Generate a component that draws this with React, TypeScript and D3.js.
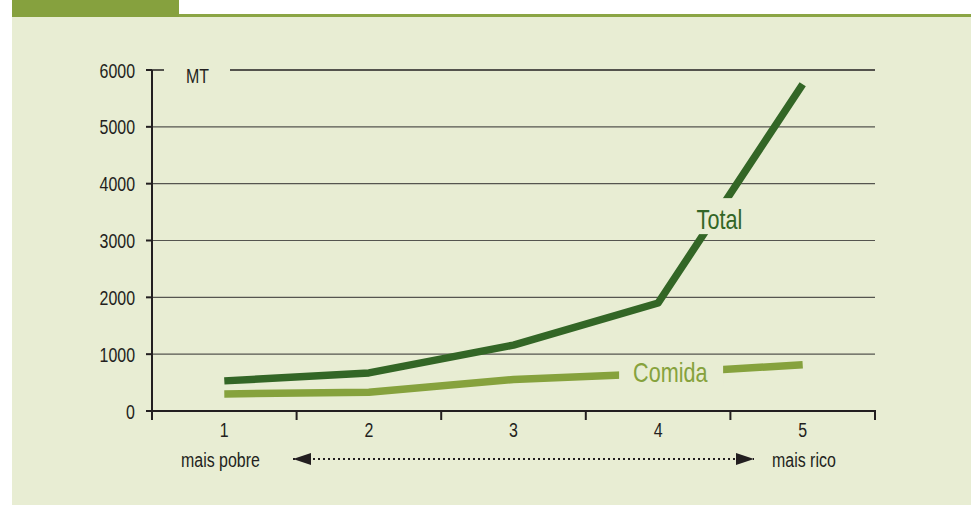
import * as d3 from "d3";
import { useEffect, useRef } from "react";

const categories = ["1", "2", "3", "4", "5"];
const totalValues = [530, 670, 1160, 1900, 5750];
const comidaValues = [300, 330, 555, 660, 815];
const yTicks = [0, 1000, 2000, 3000, 4000, 5000, 6000];

const FONT = "'Liberation Sans', Arial, sans-serif";
const PANEL = "#e8edd3";
const INK = "#231f20";
const TOTAL_COLOR = "#336626";
const COMIDA_COLOR = "#86a23d";

type G = d3.Selection<any, unknown, null, undefined>;

// the original uses a condensed face; squeeze Liberation Sans horizontally
function addText(parent: G, x: number, y: number, str: string | number, size: number, color: string, anchor = "start", squeeze = 0.76) {
  return parent
    .append("text")
    .attr("transform", `translate(${x},${y}) scale(${squeeze},1)`)
    .attr("text-anchor", anchor)
    .attr("font-family", FONT)
    .attr("font-size", size)
    .attr("fill", color)
    .text(str);
}

const App = () => {
  const svgRef = useRef<SVGSVGElement | null>(null);

  useEffect(() => {
    const width = 971;
    const height = 505;
    const svg = d3.select(svgRef.current) as G;
    svg.selectAll("*").remove();
    svg.attr("width", width).attr("height", height);

    // header band + panel
    svg.append("rect").attr("x", 12).attr("y", 17).attr("width", width - 12).attr("height", height - 17).attr("fill", PANEL);
    svg.append("rect").attr("x", 12).attr("y", 0).attr("width", 167).attr("height", 17).attr("fill", "#86a13e");
    svg.append("rect").attr("x", 179).attr("y", 14).attr("width", width - 179).attr("height", 3).attr("fill", "#8ba544");

    const left = 152;
    const right = 875;
    const x = d3.scaleBand<string>().domain(categories).range([left, right]).padding(0);
    const xc = (c: string) => (x(c) as number) + x.bandwidth() / 2;
    const y = d3.scaleLinear().domain([0, 6000]).range([411, 70]);

    // gridlines
    const grid = svg.append("g");
    yTicks.filter((t) => t > 0 && t < 6000).forEach((t) => {
      grid.append("line").attr("x1", left).attr("x2", right).attr("y1", y(t)).attr("y2", y(t))
        .attr("stroke", "#55554f").attr("stroke-width", 1.2);
    });
    // top line with gap for unit label
    grid.append("line").attr("x1", left).attr("x2", left + 12).attr("y1", y(6000)).attr("y2", y(6000))
      .attr("stroke", INK).attr("stroke-width", 1.5);
    grid.append("line").attr("x1", 230).attr("x2", right).attr("y1", y(6000)).attr("y2", y(6000))
      .attr("stroke", INK).attr("stroke-width", 1.5);

    addText(svg, 186, y(6000) + 13, "MT", 21, INK);

    // y axis
    const yAxis = svg.append("g");
    yAxis.append("line").attr("x1", left).attr("x2", left).attr("y1", y(6000)).attr("y2", y(0) + 9)
      .attr("stroke", INK).attr("stroke-width", 2);
    yTicks.forEach((t) => {
      yAxis.append("line").attr("x1", left - 6).attr("x2", left).attr("y1", y(t)).attr("y2", y(t))
        .attr("stroke", INK).attr("stroke-width", 2);
      addText(yAxis, 135, y(t) + 7.5, t, 21, INK, "end");
    });

    // x axis
    const xAxis = svg.append("g");
    xAxis.append("line").attr("x1", left).attr("x2", right + 1).attr("y1", y(0)).attr("y2", y(0))
      .attr("stroke", INK).attr("stroke-width", 2);
    const bounds = categories.map((c) => x(c) as number).concat([right]);
    bounds.forEach((b) => {
      xAxis.append("line").attr("x1", b).attr("x2", b).attr("y1", y(0)).attr("y2", y(0) + 9)
        .attr("stroke", INK).attr("stroke-width", 2);
    });
    categories.forEach((c) => {
      addText(xAxis, xc(c), y(0) + 26, c, 21, INK, "middle");
    });

    // poor -> rich arrow
    const defs = svg.append("defs");
    defs.append("marker").attr("id", "arrowhead").attr("viewBox", "0 0 18 12").attr("refX", 18).attr("refY", 6)
      .attr("markerWidth", 18).attr("markerHeight", 12).attr("markerUnits", "userSpaceOnUse").attr("orient", "auto-start-reverse")
      .append("path").attr("d", "M0,0 L18,6 L0,12 Z").attr("fill", INK);
    const ay = y(0) + 48;
    svg.append("line").attr("x1", 293).attr("x2", 754).attr("y1", ay).attr("y2", ay)
      .attr("stroke", INK).attr("stroke-width", 2).attr("stroke-dasharray", "2,3")
      .attr("marker-start", "url(#arrowhead)").attr("marker-end", "url(#arrowhead)");
    addText(svg, 181, ay + 7.5, "mais pobre", 21, INK);
    addText(svg, 772, ay + 7.5, "mais rico", 21, INK);

    // series lines
    const line = d3.line<number>().x((_, i) => xc(categories[i])).y((d) => y(d));
    svg.append("path").datum(comidaValues).attr("d", line).attr("fill", "none")
      .attr("stroke", COMIDA_COLOR).attr("stroke-width", 7.5).attr("stroke-linejoin", "round");
    svg.append("path").datum(totalValues).attr("d", line).attr("fill", "none")
      .attr("stroke", TOTAL_COLOR).attr("stroke-width", 7.5).attr("stroke-linejoin", "round");

    // series labels with knock-out backgrounds
    const tx = (xc("4") + xc("5")) / 2 - 11;
    const tyb = y(3200);
    svg.append("rect").attr("x", tx - 30).attr("y", tyb - 31).attr("width", 60).attr("height", 36).attr("fill", PANEL);
    addText(svg, tx, tyb, "Total", 27, TOTAL_COLOR, "middle", 0.8);

    const cx = xc("4") - 25;
    const cyb = y(510);
    svg.append("rect").attr("x", cx - 14).attr("y", cyb - 24).attr("width", 104).attr("height", 28).attr("fill", PANEL);
    addText(svg, cx, cyb, "Comida", 27, COMIDA_COLOR, "start", 0.8);
  }, []);

  return (
    <div style={{ position: "absolute", left: 0, top: 0 }}>
      <svg ref={svgRef} style={{ display: "block" }}></svg>
    </div>
  );
};

export default App;
